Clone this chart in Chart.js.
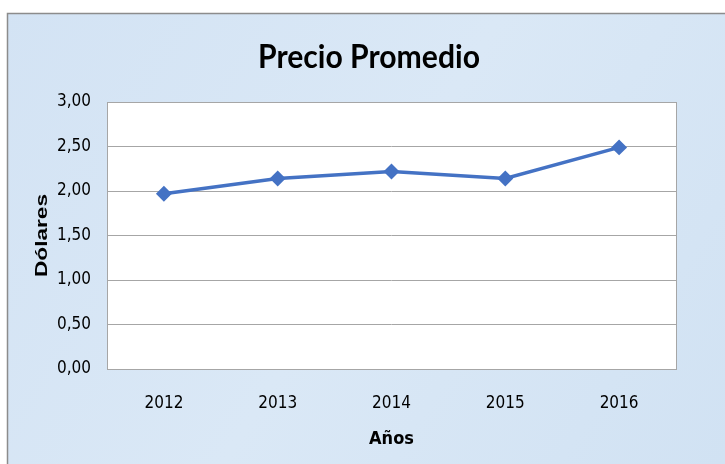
<!DOCTYPE html>
<html>
<head>
<meta charset="utf-8">
<script src="https://cdn.jsdelivr.net/npm/chart.js@4/dist/chart.umd.min.js"></script>
<style>
  html, body { margin: 0; padding: 0; background: #fff; }
  #wrap { width: 725px; height: 464px; }
</style>
</head>
<body>
<div id="wrap"><canvas id="grafico" width="725" height="464"></canvas></div>
<script>
const anios = ["2012", "2013", "2014", "2015", "2016"];
const precios = [1.97, 2.14, 2.22, 2.14, 2.49];
const tickMax = 3;
const tickPaso = 0.5;
const titulo = "Precio Promedio";
const tituloY = "Dólares";
const tituloX = "Años";

const narrow = '"Liberation Sans Narrow", "DejaVu Sans Condensed", "Noto Sans", sans-serif';

// fondo azul con marco y area de trazado blanca
const fondo = {
  id: 'fondo',
  beforeDraw(chart) {
    const ctx = chart.ctx;
    const a = chart.chartArea;
    ctx.save();
    ctx.fillStyle = '#fff';
    ctx.fillRect(0, 0, chart.width, chart.height);
    const g = ctx.createLinearGradient(0, 13, chart.width, chart.height);
    g.addColorStop(0, '#d3e3f4');
    g.addColorStop(0.5, '#dae8f6');
    g.addColorStop(1, '#d1e2f3');
    ctx.fillStyle = g;
    ctx.fillRect(7, 13, chart.width - 7, chart.height - 13);
    ctx.strokeStyle = '#8c8c8c';
    ctx.lineWidth = 1.5;
    ctx.beginPath();
    ctx.moveTo(7.5, chart.height);
    ctx.lineTo(7.5, 13.5);
    ctx.lineTo(chart.width, 13.5);
    ctx.stroke();
    ctx.fillStyle = '#fff';
    ctx.fillRect(a.left, a.top, a.right - a.left, a.bottom - a.top);
    ctx.strokeStyle = '#a6a6a6';
    ctx.lineWidth = 1;
    ctx.strokeRect(a.left + 0.5, a.top + 0.5, a.right - a.left, a.bottom - a.top);
    ctx.restore();
  }
};

// titulo y titulo del eje Y, estirados como en el original
const textos = {
  id: 'textos',
  afterDraw(chart) {
    const ctx = chart.ctx;
    const a = chart.chartArea;
    ctx.save();
    ctx.fillStyle = '#000';
    ctx.textAlign = 'center';
    ctx.textBaseline = 'alphabetic';

    ctx.font = 'bold 32px Lato, "DejaVu Sans Condensed", sans-serif';
    let w = ctx.measureText(titulo).width;
    ctx.save();
    ctx.translate(a.left + 262, a.top - 34);
    ctx.scale(222 / w, 1);
    ctx.fillText(titulo, 0, 0);
    ctx.restore();

    ctx.font = 'bold 17px "Liberation Sans", Arial, sans-serif';
    w = ctx.measureText(tituloY).width;
    ctx.save();
    ctx.translate(a.left - 60, (a.top + a.bottom) / 2);
    ctx.rotate(-Math.PI / 2);
    ctx.scale(83 / w, 1);
    ctx.fillText(tituloY, 0, 0);
    ctx.restore();

    ctx.restore();
  }
};

new Chart(document.getElementById('grafico'), {
  type: 'line',
  data: {
    labels: anios,
    datasets: [{
      data: precios,
      borderColor: '#4472c4',
      backgroundColor: '#4472c4',
      borderWidth: 3.5,
      pointStyle: 'rectRot',
      pointRadius: 5.5,
      pointHoverRadius: 5.5,
      tension: 0
    }]
  },
  options: {
    responsive: false,
    animation: false,
    layout: { padding: { left: 7, right: 49, top: 102, bottom: 0 } },
    plugins: {
      legend: { display: false },
      tooltip: { enabled: false },
      title: { display: false }
    },
    scales: {
      x: {
        offset: true,
        grid: { display: false, drawTicks: false },
        border: { display: false },
        ticks: { color: '#000', font: { family: narrow, size: 17 }, padding: 24 },
        title: {
          display: true,
          text: tituloX,
          color: '#000',
          font: { family: narrow, size: 18, weight: 'bold' },
          padding: { top: 4, bottom: 14 }
        },
        afterFit(s) { s.height = 95; }
      },
      y: {
        min: 0,
        max: tickMax,
        grid: { color: '#a6a6a6', drawTicks: false },
        border: { display: false },
        ticks: {
          stepSize: tickPaso,
          color: '#000',
          padding: 16,
          font: { family: narrow, size: 17 },
          callback: v => v.toFixed(2).replace('.', ',')
        },
        afterFit(s) { s.width = 100; }
      }
    }
  },
  plugins: [fondo, textos]
});
</script>
</body>
</html>
